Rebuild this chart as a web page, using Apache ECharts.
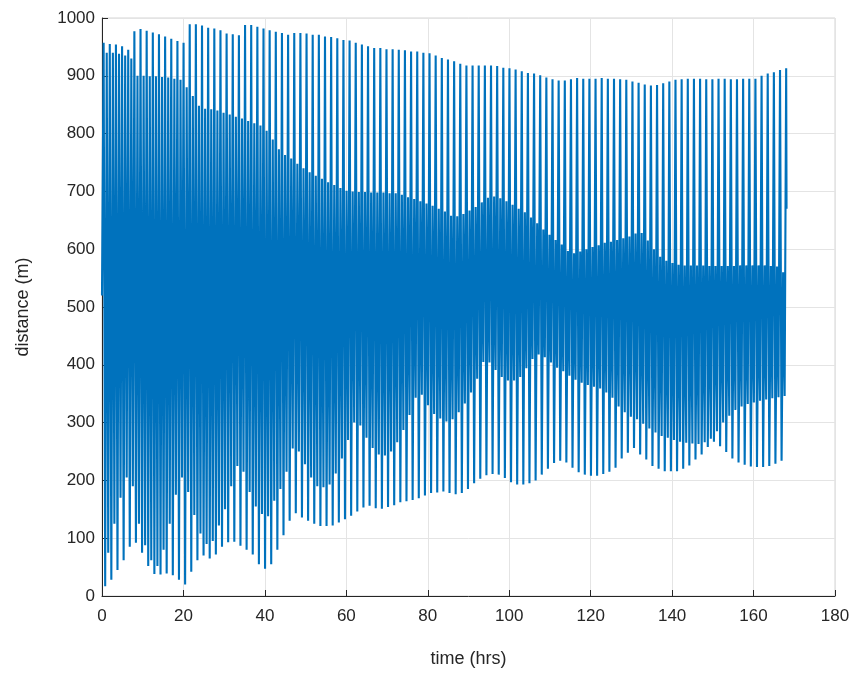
<!DOCTYPE html>
<html>
<head>
<meta charset="utf-8">
<script src="https://cdn.jsdelivr.net/npm/echarts@6/dist/echarts.min.js"></script>
<style>
html,body{margin:0;padding:0;background:#fff;}
#chart{width:856px;height:673px;}
</style>
</head>
<body>
<div id="chart"></div>
<script>
// ---- data ----
// each orbit-like cycle has four turning points: outer peak, outer trough, inner peak, inner trough
const cycleStart = 0.4;      // hrs, time of the first outer peak
const cycleLength = 1.51;    // hrs between consecutive outer peaks
const pointOffsets = [0, 0.38, 0.76, 1.13]; // hrs within a cycle
const firstValue = 520;
const lastTime = 168.1;
const lastValue = 670;

const peakTop = [957,955,954,951,945,977,981,978,975,972,968,964,960,957,989,989,987,983,982,979,973,972,970,988,988,985,982,979,
976,974,971,974,974,973,971,971,968,967,965,962,961,957,954,951,948,948,946,946,945,944,942,942,940,939,935,931,928,
925,921,918,918,918,918,918,917,914,913,911,908,905,904,901,897,894,892,892,894,896,895,895,895,896,895,895,894,893,890,888,885,883,884,887,890,893,894,895,895,895,894,894,895,895,894,894,895,895,895,900,904,906,910,913];

const troughBottom = [17,28,45,62,85,92,75,52,38,37,
39,36,28,20,42,62,70,65,72,85,
93,94,87,80,72,55,47,55,80,105,
130,143,136,130,125,121,121,122,127,133,
139,146,153,156,152,151,154,157,162,164,
166,169,174,178,179,181,178,176,178,185,
195,203,209,211,210,204,197,193,193,195,
200,210,220,230,234,231,222,214,210,208,
208,211,215,222,238,248,256,245,236,225,
220,216,216,216,220,226,236,245,258,267,
259,249,238,231,227,224,223,223,225,229,234];

const peakInner = [940,940,938,935,930,900,900,899,899,898,
897,895,893,880,865,848,843,842,840,836,
833,829,826,822,818,814,805,790,773,763,
757,748,740,733,727,722,716,711,706,701,
700,699,699,698,698,698,697,697,694,690,
687,683,679,675,670,665,658,657,661,667,
673,681,689,691,688,683,677,670,664,655,
645,634,625,616,608,597,593,596,600,604,
607,611,613,616,619,622,627,628,615,600,
587,580,576,573,572,572,572,572,571,571,
571,571,571,572,572,572,572,572,571,570,560];

const troughInner = [75,125,170,205,190,125,88,62,52,80,
125,175,205,180,140,108,90,95,122,150,
190,225,215,180,155,142,138,165,185,215,
255,250,228,205,190,188,193,212,238,270,
300,295,274,256,245,243,250,266,287,313,
343,348,330,315,307,302,306,318,333,352,
376,405,404,391,379,373,373,379,394,410,
418,413,404,395,389,381,374,369,365,362,
359,352,343,328,318,310,306,298,290,283,
277,274,270,267,265,264,263,266,272,285,
300,312,322,328,332,335,338,340,342,344,346];

const xTicks = {min: 0, max: 180, step: 20};
const yTicks = {min: 0, max: 1000, step: 100};

// ---- build the series ----
const seriesData = [[0, firstValue]];
for (let k = 0; k < peakTop.length; k++) {
  const t = cycleStart + k * cycleLength;
  seriesData.push([t + pointOffsets[0], peakTop[k]]);
  if (k < troughBottom.length) {
    seriesData.push([t + pointOffsets[1], troughBottom[k]]);
    seriesData.push([t + pointOffsets[2], peakInner[k]]);
    seriesData.push([t + pointOffsets[3], troughInner[k]]);
  }
}
seriesData.push([lastTime, lastValue]);

const axisColor = '#262626';
const font = '"Liberation Sans", Arial, Helvetica, sans-serif';

const chart = echarts.init(document.getElementById('chart'), null, {renderer: 'canvas'});
chart.setOption({
  animation: false,
  backgroundColor: '#ffffff',
  grid: {
    left: 102, right: 21, top: 18, bottom: 76,
    show: true, borderColor: '#d4d4d4', borderWidth: 1, backgroundColor: 'transparent'
  },
  xAxis: {
    type: 'value',
    min: xTicks.min, max: xTicks.max, interval: xTicks.step,
    name: 'time (hrs)', nameLocation: 'middle', nameGap: 54,
    nameTextStyle: {fontSize: 18, color: axisColor, fontFamily: font},
    axisLine: {show: true, onZero: false, lineStyle: {color: axisColor, width: 1}},
    axisTick: {show: true, inside: true, length: 6, lineStyle: {color: axisColor}},
    axisLabel: {fontSize: 17, color: axisColor, fontFamily: font, margin: 12},
    splitLine: {show: true, lineStyle: {color: '#e4e4e4', width: 1}}
  },
  yAxis: {
    type: 'value',
    min: yTicks.min, max: yTicks.max, interval: yTicks.step,
    name: 'distance (m)', nameLocation: 'middle', nameGap: 70, nameRotate: 90,
    nameTextStyle: {fontSize: 18, color: axisColor, fontFamily: font},
    axisLine: {show: true, onZero: false, lineStyle: {color: axisColor, width: 1}},
    axisTick: {show: true, inside: true, length: 6, lineStyle: {color: axisColor}},
    axisLabel: {fontSize: 17, color: axisColor, fontFamily: font, margin: 7,
                formatter: function (v) { return String(v); }},
    splitLine: {show: true, lineStyle: {color: '#e4e4e4', width: 1}}
  },
  series: [{
    type: 'line',
    data: seriesData,
    showSymbol: false,
    symbol: 'none',
    sampling: null,
    smooth: false,
    lineStyle: {color: '#0072BD', width: 2.1},
    itemStyle: {color: '#0072BD'}
  }]
});
</script>
</body>
</html>
